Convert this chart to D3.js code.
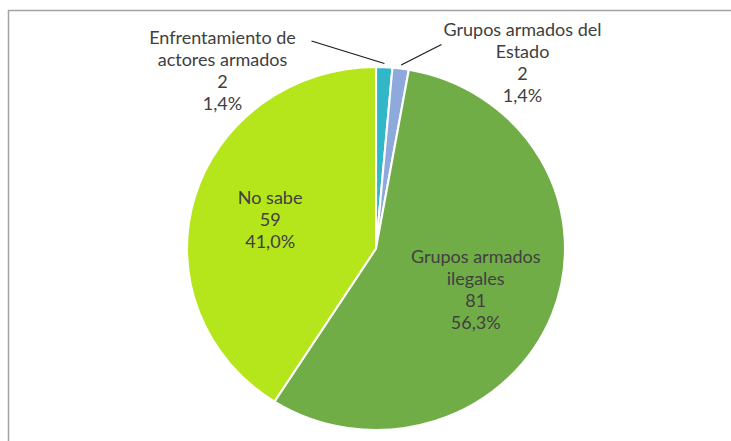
<!DOCTYPE html>
<html>
<head>
<meta charset="utf-8">
<script src="https://cdn.jsdelivr.net/npm/d3@7"></script>
<style>
  body { margin: 0; background: #fff; }
  text { font-family: Lato, "Open Sans", sans-serif; font-size: 18px; fill: #404040; }
</style>
</head>
<body>
<div id="chart"></div>
<script>
// data
var categories = ["Enfrentamiento de actores armados", "Grupos armados del Estado", "Grupos armados ilegales", "No sabe"];
var counts = [2, 2, 81, 59];
var percents = ["1,4%", "1,4%", "56,3%", "41,0%"];
var colors = ["#31B7C8", "#8EA9DB", "#70AD47", "#B5E51B"];

// label lines as they are broken in the picture
var labelLines = [
  ["Enfrentamiento de", "actores armados"],
  ["Grupos armados del", "Estado"],
  ["Grupos armados", "ilegales"],
  ["No sabe"]
];

var svg = d3.select("#chart")
            .append("svg")
            .attr("width", 731)
            .attr("height", 441);

// frame (only top and left edges show in the crop)
svg.append("path")
   .attr("d", "M8.5,441 L8.5,10.5 L731,10.5")
   .attr("fill", "none")
   .attr("stroke", "#a3a3a3")
   .style("stroke-width", 1.5);

var cx = 376, cy = 248.5;
var ry = 181.5, rx = 189;   // pie is a little wider than tall

var pie = d3.pie().sort(null).value(function(d) { return d; });
var arcs = pie(counts);

var arc = d3.arc().innerRadius(0).outerRadius(ry);

var g = svg.append("g")
           .attr("transform", "translate(" + cx + "," + cy + ")");

g.append("g")
  .attr("transform", "scale(" + (rx / ry) + ",1)")
  .selectAll("path")
  .data(arcs)
  .enter()
  .append("path")
    .attr("d", arc)
    .attr("fill", function(d, i) { return colors[i]; })
    .attr("stroke", "#fff")
    .style("stroke-width", 2);

function edgePoint(d, k) {
  var a = (d.startAngle + d.endAngle) / 2;
  return [Math.sin(a) * rx * k, -Math.cos(a) * ry * k];
}

// label positions (centre of text block), relative to the pie centre
var labelPos = [
  [-153.5, -178],
  [146.5, -185.5],
  null,
  null
];

var lineH = 22;

arcs.forEach(function(d, i) {
  var lines = labelLines[i].concat([String(counts[i]), percents[i]]);
  var pos;
  if (labelPos[i]) {
    pos = labelPos[i];
  } else {
    var p = edgePoint(d, 0.6);
    pos = [p[0] + (i == 2 ? -6 : 3), p[1] + 2];
  }
  var top = pos[1] - (lines.length - 1) * lineH / 2;
  var t = g.append("text")
           .attr("text-anchor", "middle");
  lines.forEach(function(s, j) {
    t.append("tspan")
     .attr("x", pos[0])
     .attr("y", top + j * lineH)
     .attr("dy", "0.35em")
     .text(s);
  });
});

// leader lines for the two small slices
var leaderStart = [[-64.5, -207.5], [65.5, -204]];
[0, 1].forEach(function(i) {
  var e = edgePoint(arcs[i], 1.02);
  g.append("line")
   .attr("x1", leaderStart[i][0])
   .attr("y1", leaderStart[i][1])
   .attr("x2", e[0])
   .attr("y2", e[1])
   .attr("stroke", "#1a1a1a")
   .style("stroke-width", 1.2);
});
</script>
</body>
</html>
